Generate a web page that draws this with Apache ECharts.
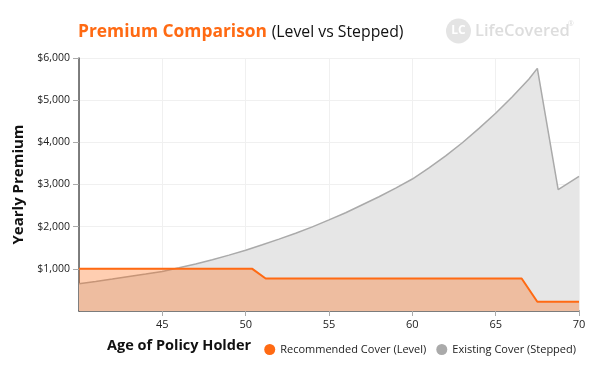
<!DOCTYPE html>
<html>
<head>
<meta charset="utf-8">
<script src="https://cdn.jsdelivr.net/npm/echarts@6/dist/echarts.min.js"></script>
<style>html,body{margin:0;padding:0;background:#fff}#c{width:600px;height:368px}</style>
</head>
<body>
<div id="c"></div>
<script>
// Recommended Cover (Level): [age, premium]
const levelAges   = [40, 50.4, 51.2, 66.56, 67.5, 70];
const levelValues = [1000, 1000, 770, 770, 220, 220];
// Existing Cover (Stepped): [age, premium]
const steppedAges   = [40, 41, 42, 43, 44, 45, 46, 47, 48, 49, 50, 51, 52, 53, 54, 55, 56, 57, 58, 59, 60, 61, 62, 63, 64, 65, 66, 67, 67.5, 68.75, 70];
const steppedValues = [648, 700, 757, 818, 877, 938, 1025, 1115, 1215, 1325, 1442, 1570, 1705, 1845, 1995, 2160, 2330, 2520, 2710, 2915, 3130, 3395, 3680, 3990, 4330, 4690, 5080, 5500, 5754, 2877, 3190];
const xTicks = [45, 50, 55, 60, 65, 70];
const yTicks = [1000, 2000, 3000, 4000, 5000, 6000];

const FONT = 'Open Sans';
const ORANGE = '#ff6a13';
const GRAY = '#aaaaaa';

const chart = echarts.init(document.getElementById('c'));
chart.setOption({
  animation: false,
  textStyle: { fontFamily: FONT },
  title: {
    text: '{a|Premium Comparison} {b|(Level vs Stepped)}',
    left: 73, top: 18,
    textStyle: {
      rich: {
        a: { fontFamily: FONT, fontSize: 17.4, fontWeight: 700, color: ORANGE },
        b: { fontFamily: FONT, fontSize: 15.8, fontWeight: 400, color: '#111' }
      }
    }
  },
  graphic: [
    { type: 'circle', shape: { cx: 458.5, cy: 31, r: 12.5 }, style: { fill: '#e4e4e4' } },
    { type: 'text', style: { x: 458.5, y: 31, text: 'LC', fill: '#fff', font: '700 12px "Open Sans"', align: 'center', verticalAlign: 'middle' } },
    { type: 'text', style: { x: 475, y: 31, text: 'LifeCovered', fill: '#dddddd', font: '600 16.5px "Open Sans"', verticalAlign: 'middle' } },
    { type: 'text', style: { x: 568, y: 20, text: '®', fill: '#dddddd', font: '7px "Open Sans"' } },
    { type: 'text', style: { x: 107, y: 346, text: 'Age of Policy Holder', fill: '#111', font: '700 14.5px "Open Sans"', verticalAlign: 'middle' } }
  ],
  legend: {
    data: ['Recommended Cover (Level)', 'Existing Cover (Stepped)'],
    right: 19, top: 339,
    icon: 'circle', itemWidth: 11, itemHeight: 11, itemGap: 10,
    textStyle: { fontFamily: FONT, fontSize: 11, color: '#222' }
  },
  grid: { left: 79, right: 21, top: 58, bottom: 57 },
  xAxis: {
    type: 'value', min: 40, max: 70, interval: 5,
    axisLine: { show: true, lineStyle: { color: '#555', width: 1.5 } },
    axisTick: { show: true, length: 5, lineStyle: { color: '#aaa' } },
    axisLabel: { showMinLabel: false, color: '#222', fontSize: 11, margin: 8,
      formatter: v => xTicks.includes(v) ? String(v) : '' },
    splitLine: { show: true, lineStyle: { color: '#f0f0f0' } }
  },
  yAxis: {
    type: 'value', min: 0, max: 6000, interval: 1000,
    name: 'Yearly Premium', nameLocation: 'middle', nameGap: 50,
    nameTextStyle: { fontFamily: FONT, fontSize: 15, fontWeight: 700, color: '#111' },
    axisLine: { show: true, lineStyle: { color: '#555', width: 1.5 } },
    axisTick: { show: true, length: 6, lineStyle: { color: '#aaa' } },
    axisLabel: { showMinLabel: false, color: '#222', fontSize: 10.5, margin: 9,
      formatter: v => yTicks.includes(v) ? '$' + v.toLocaleString('en-US') : '' },
    splitLine: { show: true, lineStyle: { color: '#f0f0f0' } }
  },
  series: [
    {
      name: 'Existing Cover (Stepped)', type: 'line', showSymbol: false, symbol: 'circle',
      data: steppedAges.map((a, i) => [a, steppedValues[i]]),
      itemStyle: { color: GRAY },
      lineStyle: { color: GRAY, width: 1.5 },
      areaStyle: { color: '#e6e6e6', opacity: 1 },
      z: 1
    },
    {
      name: 'Recommended Cover (Level)', type: 'line', showSymbol: false, symbol: 'circle',
      data: levelAges.map((a, i) => [a, levelValues[i]]),
      itemStyle: { color: ORANGE },
      lineStyle: { color: ORANGE, width: 2 },
      areaStyle: { color: ORANGE, opacity: 0.33 },
      z: 2
    }
  ]
});
</script>
</body>
</html>
